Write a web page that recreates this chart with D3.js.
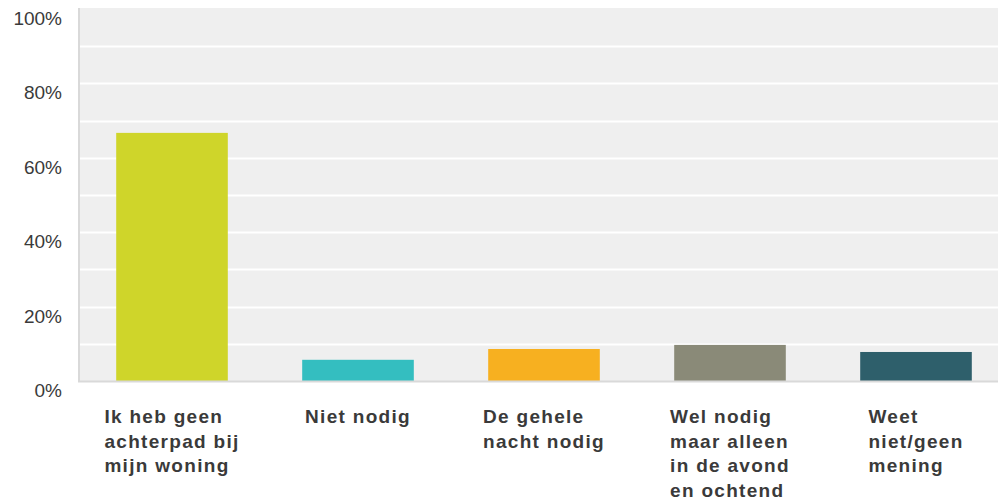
<!DOCTYPE html>
<html>
<head>
<meta charset="utf-8">
<script src="https://cdn.jsdelivr.net/npm/d3@7"></script>
<style>
  html, body { margin: 0; padding: 0; background: #fff; }
  svg { display: block; }
</style>
</head>
<body>
<svg id="chart" width="998" height="497"></svg>
<script>
// answers (each label as its wrapped lines) and share of respondents
var categories = [
  ["Ik heb geen", "achterpad bij", "mijn woning"],
  ["Niet nodig"],
  ["De gehele", "nacht nodig"],
  ["Wel nodig", "maar alleen", "in de avond", "en ochtend"],
  ["Weet", "niet/geen", "mening"]
];
var values = [0.667, 0.057, 0.086, 0.097, 0.078];
var colors = ["#cfd52a", "#34bec0", "#f7b020", "#8a8a78", "#2e5f6b"];
var tickValues = [0, 0.2, 0.4, 0.6, 0.8, 1];
var gridValues = [0.1, 0.2, 0.3, 0.4, 0.5, 0.6, 0.7, 0.8, 0.9];

var svg = d3.select("#chart");
var margin = {top: 9, bottom: 381, left: 79, right: 1009};

var x = d3.scaleBand()
    .domain(d3.range(categories.length))
    .range([margin.left, margin.right])
    .paddingInner(0.4)
    .paddingOuter(0.2);

var y = d3.scaleLinear()
    .domain([0, 1])
    .range([margin.bottom, margin.top]);

// plot background
svg.append("rect")
    .attr("x", margin.left)
    .attr("y", margin.top - 1)
    .attr("width", 998 - margin.left)
    .attr("height", margin.bottom - margin.top + 1)
    .attr("fill", "#efefef");

// white gridlines
svg.append("g").selectAll("line").data(gridValues).enter()
    .append("line")
    .attr("x1", margin.left)
    .attr("x2", 998)
    .attr("y1", d => Math.round(y(d)) + 0.5)
    .attr("y2", d => Math.round(y(d)) + 0.5)
    .attr("stroke", "#ffffff")
    .attr("stroke-width", 2);

// bars
svg.append("g").selectAll("rect").data(values).enter()
    .append("rect")
    .attr("x", (d, i) => x(i))
    .attr("y", d => y(d))
    .attr("width", x.bandwidth())
    .attr("height", d => y(0) - y(d))
    .attr("fill", (d, i) => colors[i]);

// axis lines
svg.append("line")
    .attr("x1", margin.left).attr("x2", margin.left)
    .attr("y1", margin.top - 1).attr("y2", margin.bottom + 1)
    .attr("stroke", "#d9d9d9").attr("stroke-width", 2);
svg.append("line")
    .attr("x1", margin.left - 1).attr("x2", 998)
    .attr("y1", margin.bottom + 0.5).attr("y2", margin.bottom + 0.5)
    .attr("stroke", "#d9d9d9").attr("stroke-width", 2);

// y tick labels sit just under their line
var yAxis = d3.axisLeft(y)
    .tickValues(tickValues)
    .tickFormat(d3.format(".0%"))
    .tickSize(0)
    .tickPadding(0);

svg.append("g")
    .attr("transform", "translate(62,0)")
    .call(yAxis)
    .call(g => g.select(".domain").remove())
    .call(g => g.selectAll("text")
        .attr("dy", "0.82em")
        .attr("fill", "#3a3a3a")
        .style("font-family", "'Liberation Sans', Arial, sans-serif")
        .style("font-size", "19px"));

// category labels: left aligned block centred under each bar
var labels = svg.append("g")
    .style("font-family", "'Liberation Sans', Arial, sans-serif")
    .style("font-size", "19px")
    .style("font-weight", "bold")
    .style("letter-spacing", "1.3px")
    .attr("fill", "#3a3a3a");

categories.forEach(function(lines, i) {
  var t = labels.append("text");
  lines.forEach(function(line, j) {
    t.append("tspan")
      .attr("y", 423 + j * 24.5)
      .text(line);
  });
  var w = d3.max(t.selectAll("tspan").nodes(), n => n.getComputedTextLength());
  t.selectAll("tspan").attr("x", x(i) + x.bandwidth() / 2 - w / 2);
});
</script>
</body>
</html>
